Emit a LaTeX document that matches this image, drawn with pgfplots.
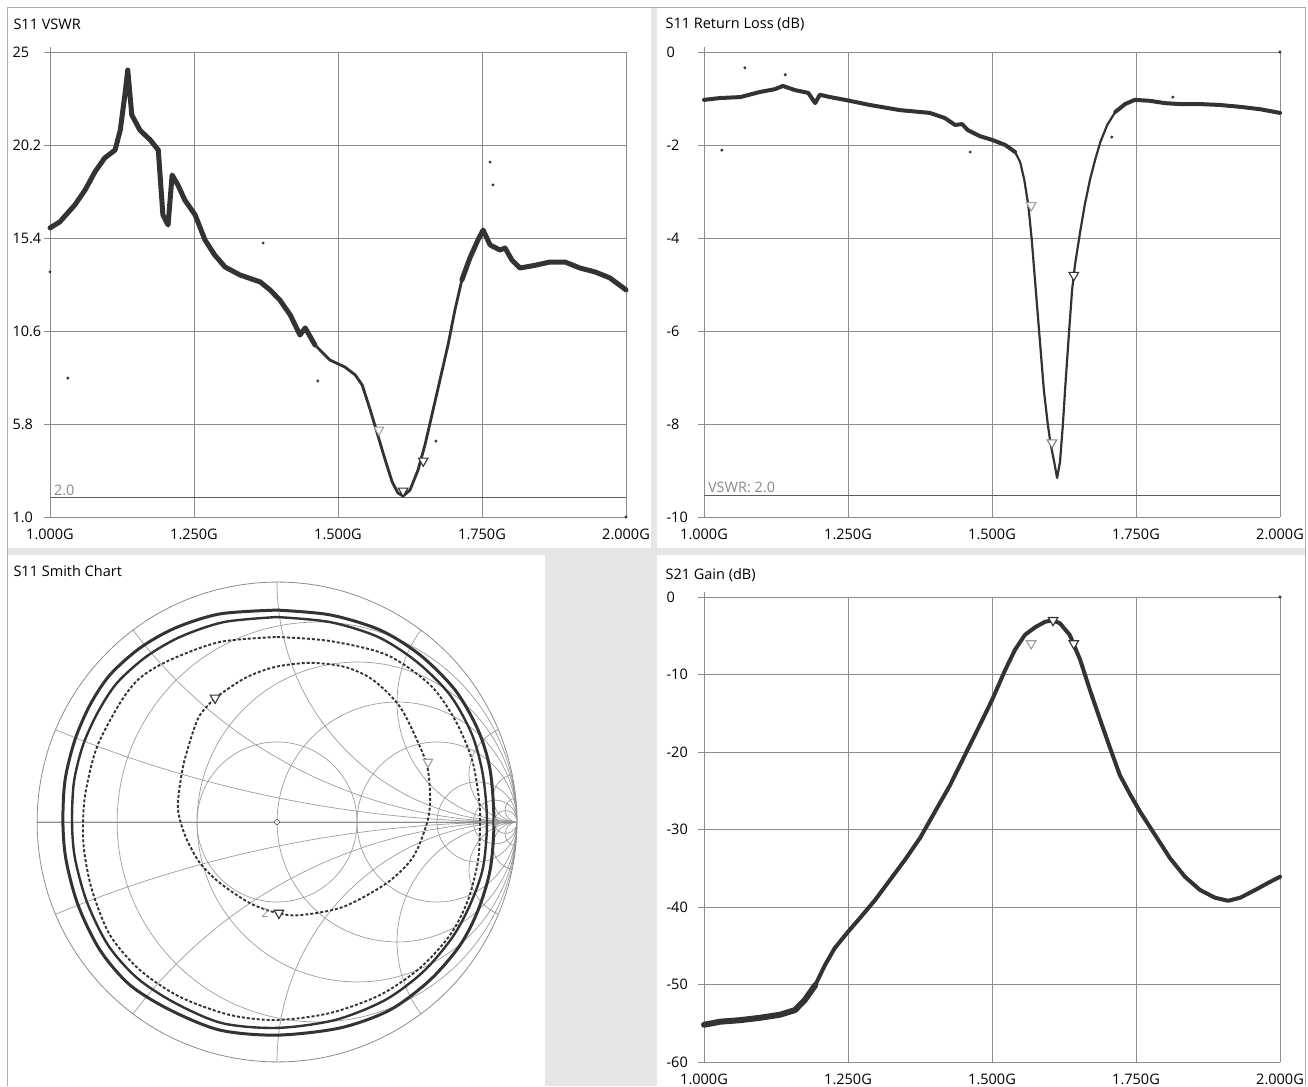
\documentclass[border=0pt]{standalone}
\usepackage{pgfplots}
\pgfplotsset{compat=1.18}
\usepgfplotslibrary{smithchart}
\usepackage{fontspec}
\setmainfont{Open Sans}

\definecolor{gapgray}{HTML}{E6E6E6}
\definecolor{gridgray}{HTML}{8C8C8C}
\definecolor{trace}{HTML}{333333}
\definecolor{mkgray}{HTML}{A0A0A0}
\definecolor{lblgray}{HTML}{8A8A8A}

\newcommand{\uifont}{\fontsize{14.5}{17}\selectfont}

\pgfplotsset{
  panel/.style={
    scale only axis, width=576pt, height=465pt,
    axis lines=left,
    axis line style={-, draw=gridgray, line width=0.9pt},
    y axis line style={shorten >=-5pt},
    grid=major, grid style={draw=gridgray, line width=0.8pt},
    xmin=1, xmax=2, xtick={1,1.25,1.5,1.75,2},
    xticklabels={1.000G,1.250G,1.500G,1.750G,2.000G},
    xtick style={draw=none},
    ytick style={draw=gridgray, line width=0.8pt},
    major tick length=6pt, tick align=outside,
    tick label style={font=\uifont},
    xticklabel style={yshift=-2pt},
    yticklabel style={anchor=west, xshift=-35pt},
    clip=false,
  },
  tr/.style={draw=trace, line width=3pt, no markers, line join=round, line cap=round},
  dotted ring/.style={draw=trace, line width=1.9pt, no markers, smooth, line cap=butt,
    dash pattern=on 3pt off 2pt},
  outl/.style={only marks, mark=*, mark size=1.3pt, color=trace},
  mk/.style={only marks, mark=triangle*, mark size=5.5pt,
    mark options={rotate=180, fill=white, draw=#1, line width=1.1pt}},
}

\begin{document}
\begin{tikzpicture}
\fill[white] (0,0) rectangle (1308pt,1086pt);
% gaps between panels
\fill[gapgray] (651pt,538pt) rectangle (657pt,1078pt);
\fill[gapgray] (8pt,531pt) rectangle (1306pt,538pt);
\fill[gapgray] (545pt,0pt) rectangle (657pt,531pt);
\draw[gridgray!70, line width=0.8pt] (7.5pt,0pt) -- (7.5pt,1078.5pt) -- (1305.5pt,1078.5pt) -- (1305.5pt,0pt);

% ---------------- S11 VSWR ----------------
\begin{axis}[panel, at={(50pt,569pt)}, anchor=south west,
  ymin=1, ymax=25, ytick={1,5.8,10.6,15.4,20.2,25},
  yticklabels={1.0,5.8,10.6,15.4,20.2,25}]
\addplot[draw=trace!80, line width=0.9pt] coordinates {(1,2) (2,2)};
\node[anchor=south west, text=lblgray, font=\uifont, inner sep=1pt]
  at (axis cs:1.005,2.05) {2.0};
% noisy low band
\addplot[tr, line width=5pt] coordinates {
(1.000,15.92) (1.017,16.23) (1.043,17.10) (1.061,17.88) (1.078,18.81) (1.095,19.53)
(1.113,19.94) (1.122,20.97) (1.130,22.78) (1.135,24.07) (1.142,21.75) (1.156,20.97)
(1.174,20.46) (1.188,19.94) (1.196,16.59) (1.205,16.07) (1.212,18.65) (1.222,18.14)
(1.234,17.36) (1.252,16.59) (1.269,15.30) (1.286,14.52) (1.304,13.90) (1.330,13.49)
(1.365,13.13) (1.382,12.72) (1.399,12.20) (1.417,11.43) (1.434,10.39) (1.443,10.76)
(1.460,9.88)
};
% clean resonance
\addplot[tr, line width=2.8pt] coordinates {
(1.460,9.88) (1.486,9.10) (1.512,8.74) (1.530,8.33) (1.542,7.81) (1.556,6.52)
(1.569,5.23) (1.582,3.94) (1.594,2.81) (1.604,2.24) (1.613,2.08) (1.625,2.39)
(1.639,3.43) (1.651,4.72) (1.663,6.26) (1.677,8.07) (1.691,9.88) (1.703,11.68)
(1.715,13.23)
};
% noisy high band
\addplot[tr, line width=5pt] coordinates {
(1.715,13.23) (1.729,14.37) (1.743,15.30) (1.752,15.81) (1.764,15.04) (1.781,14.78)
(1.790,14.88) (1.802,14.26) (1.816,13.85) (1.842,13.99) (1.868,14.16) (1.894,14.16)
(1.920,13.85) (1.946,13.65) (1.972,13.34) (2.000,12.72)
};
\addplot[outl] coordinates {(1.0,13.65) (1.031,8.17) (1.764,19.32) (1.769,18.14)
  (1.370,15.14) (1.465,8.02) (1.670,4.92) (2.0,1.0)};
\addplot[mk=mkgray] coordinates {(1.571,5.5)};
\addplot[mk=trace] coordinates {(1.613,2.35) (1.648,3.9)};
\end{axis}
\node[anchor=west, font=\uifont] at (10pt,1062pt) {S11 VSWR};

% ---------------- S11 Return Loss ----------------
\begin{axis}[panel, at={(704pt,569pt)}, anchor=south west,
  ymin=-10, ymax=0, ytick={-10,-8,-6,-4,-2,0},
  yticklabels={-10,-8,-6,-4,-2,0}]
\addplot[draw=trace!80, line width=0.9pt] coordinates {(1,-9.54) (2,-9.54)};
\node[anchor=south west, text=lblgray, font=\uifont, inner sep=1pt]
  at (axis cs:1.005,-9.5) {VSWR: 2.0};
\addplot[tr, line width=4pt] coordinates {
(1.000,-1.03) (1.028,-0.99) (1.063,-0.97) (1.097,-0.86) (1.123,-0.80) (1.137,-0.73)
(1.158,-0.82) (1.181,-0.88) (1.193,-1.10) (1.201,-0.92) (1.219,-0.97) (1.245,-1.03)
(1.288,-1.14) (1.340,-1.25) (1.392,-1.31) (1.418,-1.42) (1.436,-1.57) (1.448,-1.55)
(1.458,-1.68) (1.479,-1.81) (1.500,-1.89) (1.523,-2.00) (1.540,-2.15)
};
\addplot[tr, line width=2.2pt] coordinates {
(1.540,-2.15) (1.549,-2.37)
(1.556,-2.75) (1.563,-3.29) (1.569,-4.04) (1.576,-5.12) (1.583,-6.19) (1.590,-7.27)
(1.597,-8.02) (1.602,-8.45) (1.608,-8.82) (1.613,-9.16) (1.618,-8.82) (1.623,-8.02)
(1.628,-7.05) (1.634,-5.98) (1.639,-5.12) (1.644,-4.58) (1.653,-3.87) (1.661,-3.29)
(1.670,-2.75) (1.679,-2.32) (1.688,-1.94) (1.700,-1.57) (1.714,-1.29)
};
\addplot[tr, line width=4pt] coordinates {
(1.714,-1.29) (1.731,-1.12)
(1.748,-1.03) (1.774,-1.05) (1.800,-1.10) (1.826,-1.12) (1.861,-1.12) (1.896,-1.14)
(1.931,-1.18) (1.965,-1.23) (2.000,-1.31)
};
\addplot[outl] coordinates {(1.031,-2.11) (1.071,-0.34) (1.141,-0.49) (1.462,-2.15)
  (1.708,-1.83) (1.814,-0.97) (2.0,0.0)};
\addplot[mk=mkgray] coordinates {(1.568,-3.3)};
\addplot[mk=gray] coordinates {(1.604,-8.4)};
\addplot[mk=trace] coordinates {(1.642,-4.8)};
\end{axis}
\node[anchor=west, font=\uifont] at (662pt,1062pt) {S11 Return Loss (dB)};

% ---------------- S21 Gain ----------------
\begin{axis}[panel, at={(704pt,24pt)}, anchor=south west,
  ymin=-60, ymax=0, ytick={-60,-50,-40,-30,-20,-10,0},
  yticklabels={-60,-50,-40,-30,-20,-10,0}]
\addplot[tr, line width=6pt] coordinates {
(1.000,-55.2) (1.028,-54.8) (1.063,-54.6) (1.097,-54.3) (1.132,-53.9) (1.158,-53.3)
(1.175,-52.0) (1.193,-50.1)
};
\addplot[tr, line width=4pt] coordinates {
(1.193,-50.1) (1.210,-47.5) (1.227,-45.3) (1.250,-43.2) (1.271,-41.4)
(1.297,-39.1) (1.323,-36.5) (1.349,-33.9) (1.375,-31.1) (1.401,-27.7) (1.427,-24.3)
(1.453,-20.4) (1.479,-16.5) (1.500,-13.3) (1.523,-9.4) (1.540,-6.8) (1.557,-4.9)
(1.575,-3.9) (1.592,-3.2) (1.606,-3.0) (1.618,-3.4) (1.635,-4.9) (1.653,-8.1)
(1.670,-12.0) (1.688,-15.9) (1.705,-19.5) (1.722,-23.0) (1.740,-25.5) (1.757,-27.7)
(1.783,-30.7) (1.809,-33.7) (1.835,-36.1) (1.861,-37.8) (1.887,-38.8) (1.910,-39.2)
(1.931,-38.8) (1.957,-37.8) (1.979,-36.9) (2.000,-36.1)
};
\addplot[outl] coordinates {(2.0,0.0)};
\addplot[mk=mkgray] coordinates {(1.568,-6.0)};
\addplot[mk=trace] coordinates {(1.606,-3.0) (1.642,-6.0)};
\end{axis}
\node[anchor=west, font=\uifont] at (662pt,511pt) {S21 Gain (dB)};

% ---------------- S11 Smith Chart ----------------
\begin{smithchart}[at={(277pt,264pt)}, anchor=center, scale only axis, width=480pt,
  xtick={0.2,0.5,1,2,5,10,20},
  ytick={-20,-10,-5,-2,-1,-0.5,-0.2,0,0.2,0.5,1,2,5,10,20},
  minor xtick={}, minor ytick={},
  xticklabels={}, yticklabels={},
  show origin=false,
  major tick length=0pt, minor tick length=0pt,
  tick style={draw=none},
  grid style={draw=gridgray!85, line width=0.7pt},
  axis line style={draw=gridgray, line width=0.8pt},
  clip=false]
% outermost ring
\addplot[is smithchart cs, tr, line width=3pt, smooth] coordinates {
(0,0.883) (0.221,0.863) (0.429,0.8) (0.596,0.696) (0.742,0.55) (0.838,0.383)
(0.888,0.217) (0.904,0) (0.888,-0.2) (0.838,-0.367) (0.763,-0.513) (0.638,-0.658)
(0.471,-0.783) (0.263,-0.858) (0,-0.888) (-0.238,-0.867) (-0.446,-0.783) (-0.613,-0.679)
(-0.738,-0.533) (-0.829,-0.346) (-0.879,-0.158) (-0.892,0) (-0.883,0.175) (-0.842,0.342)
(-0.779,0.488) (-0.696,0.613) (-0.571,0.725) (-0.425,0.808) (-0.238,0.867) (0,0.883)
};
% second ring
\addplot[is smithchart cs, tr, line width=2.4pt, smooth] coordinates {
(0,0.854) (0.221,0.833) (0.421,0.771) (0.583,0.667) (0.721,0.529) (0.813,0.363)
(0.858,0.196) (0.875,0) (0.858,-0.192) (0.804,-0.346) (0.729,-0.483) (0.608,-0.625)
(0.45,-0.742) (0.242,-0.825) (0,-0.858) (-0.229,-0.838) (-0.425,-0.754) (-0.583,-0.65)
(-0.704,-0.513) (-0.792,-0.333) (-0.842,-0.15) (-0.854,0) (-0.846,0.167) (-0.808,0.321)
(-0.746,0.458) (-0.667,0.579) (-0.546,0.688) (-0.404,0.771) (-0.221,0.833) (0,0.854)
};
% third ring (sparser)
\addplot[is smithchart cs, dotted ring] coordinates {
(0,0.771) (0.221,0.754) (0.458,0.696) (0.638,0.571) (0.742,0.425) (0.813,0.258)
(0.842,0.092) (0.846,0) (0.838,-0.158) (0.796,-0.325) (0.721,-0.471) (0.596,-0.608)
(0.429,-0.721) (0.221,-0.796) (0,-0.825) (-0.196,-0.804) (-0.404,-0.729) (-0.571,-0.617)
(-0.696,-0.471) (-0.771,-0.283) (-0.804,-0.117) (-0.808,0.008) (-0.796,0.133) (-0.75,0.313)
(-0.654,0.496) (-0.571,0.6) (-0.446,0.675) (-0.238,0.75) (0,0.771)
};
% resonance loop
\addplot[is smithchart cs, dotted ring] coordinates {
(-0.258,0.517) (-0.133,0.6) (-0.008,0.646) (0.138,0.663) (0.283,0.646) (0.4,0.592)
(0.513,0.479) (0.596,0.313) (0.629,0.217) (0.638,0.092) (0.625,-0.004) (0.567,-0.146)
(0.458,-0.254) (0.275,-0.354) (0.096,-0.388) (0,-0.379) (-0.113,-0.338) (-0.238,-0.254)
(-0.321,-0.171) (-0.375,-0.075) (-0.404,0.008) (-0.413,0.079) (-0.392,0.229) (-0.354,0.363)
(-0.321,0.446) (-0.258,0.517)
};
\addplot[is smithchart cs, mk=trace] coordinates {(-0.258,0.517) (0.008,-0.379)};
\addplot[is smithchart cs, mk=mkgray] coordinates {(0.629,0.25)};
\addplot[is smithchart cs, only marks, mark=triangle*, mark size=5pt,
  mark options={rotate=-90, fill=mkgray, draw=mkgray}] coordinates {(0.917,0)};
\end{smithchart}
% VSWR 2 circle on the Smith chart
\draw[gridgray!85, line width=0.7pt] (277pt,264pt) circle[radius=80pt];
\node[text=lblgray, font=\fontsize{12}{14}\selectfont] at (265pt,173pt) {2};
\node[anchor=west, font=\uifont] at (10pt,515pt) {S11 Smith Chart};

\pgfresetboundingbox
\useasboundingbox (0,0) rectangle (1308pt,1086pt);
\end{tikzpicture}
\end{document}
